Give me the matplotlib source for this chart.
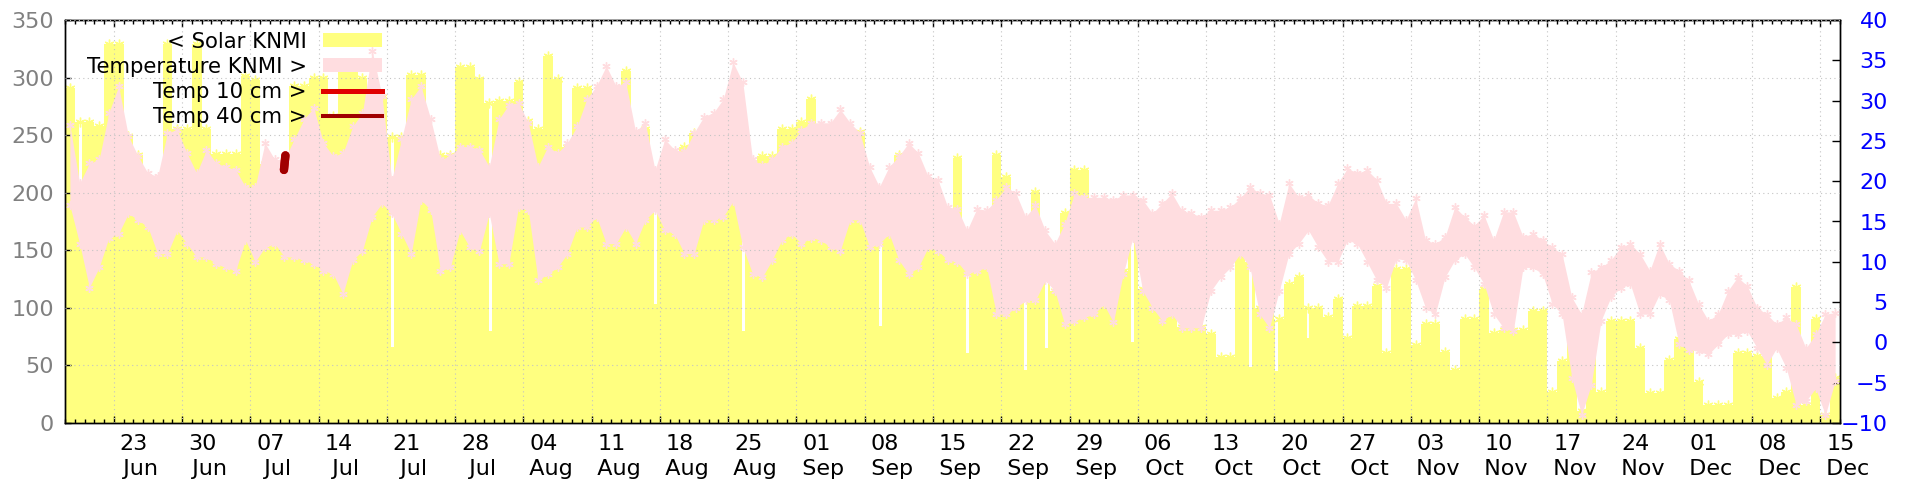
import numpy as np
import matplotlib
matplotlib.use('Agg')
import matplotlib.pyplot as plt
import matplotlib.dates as mdates
import matplotlib.transforms as mtransforms
from matplotlib.patches import Rectangle
from matplotlib.lines import Line2D
from datetime import datetime

# daily data, day 0 = 18 Jun 2025
start = datetime(2025, 6, 18)

solar = [291, 261, 261, 258, 329, 329, 249, 233, 205, 200,
         329, 255, 255, 329, 255, 234, 234, 234, 301, 298,
         225, 225, 200, 293, 293, 300, 300, 267, 306, 306,
         300, 290, 283, 248, 248, 302, 302, 240, 233, 233,
         309, 309, 299, 278, 280, 280, 296, 262, 255, 319,
         299, 240, 291, 291, 280, 280, 280, 306, 250, 255,
         200, 220, 220, 240, 252, 230, 230, 230, 230, 220,
         210, 232, 232, 255, 255, 261, 281, 240, 240, 240,
         240, 253, 200, 200, 210, 233, 220, 220, 200, 190,
         180, 230, 140, 140, 140, 233, 214, 120, 150, 201,
         130, 115, 182, 220, 220, 144, 140, 140, 132, 165,
         116, 138, 120, 112, 83, 83, 83, 77, 57, 57,
         153, 140, 100, 100, 90, 121, 127, 100, 100, 92,
         108, 74, 102, 102, 119, 61, 134, 134, 68, 86,
         86, 62, 46, 90, 90, 116, 78, 81, 81, 81,
         97, 97, 27, 54, 70, 10, 77, 27, 89, 89,
         89, 65, 26, 26, 55, 73, 65, 36, 16, 16,
         16, 61, 61, 58, 58, 22, 27, 118, 16, 90,
         7, 39]

# short drops inside a day (day position, value)
dip_day = [1.4, 33.4, 43.5, 60.4, 69.4, 83.5, 92.4, 98.3, 100.5, 109.3, 121.4, 124.1, 127.3]
dip_val = [198, 66, 80, 103, 80, 84, 61, 46, 65, 70, 49, 45, 74]

temp_max = [27, 19.75, 22.2, 22.7, 28.5, 31.8, 25.6, 23.1, 21, 20.6,
            26, 26.4, 23.5, 21, 23.9, 22.25, 21.8, 21.4, 19.3, 19.3,
            24.75, 22.7, 22.7, 25.2, 27.7, 29.1, 24.75, 23.1, 23.5, 26.8,
            28.5, 36.2, 30.6, 20.2, 25.2, 30.2, 31.8, 27.7, 22.7, 23.1,
            24.3, 24.3, 23.9, 21.8, 27.7, 29.5, 29.75, 27.25, 21.8, 24.3,
            23.5, 24.75, 26.8, 30.2, 31.8, 34.3, 31.8, 32.25, 26.2, 27.25,
            21.4, 25.2, 23.9, 23.7, 26, 28, 28.5, 30.2, 34.75, 32.25,
            22.7, 22, 22.7, 24.3, 24.75, 26.4, 27.25, 27.25, 27.25, 28.9,
            27.25, 26, 21.8, 19.3, 21.8, 23.1, 24.75, 23.5, 20.6, 20.2,
            16.8, 16.6, 13.9, 16.6, 16.4, 17.7, 19.3, 18.5, 15.6, 17,
            13.9, 12.25, 14.75, 18.5, 18, 18, 18, 17.7, 18.3, 18.3,
            17.7, 16, 17.25, 18.5, 16.4, 16, 15.6, 16.4, 16.4, 16.8,
            17.9, 19.3, 18.5, 18.3, 14.75, 19.75, 18, 18.3, 17.25, 17,
            19.75, 21.6, 21, 21.4, 20.2, 17.25, 17.25, 15.2, 17.9, 12.7,
            12.25, 13.1, 16.8, 15.6, 14.5, 15.8, 12.7, 16.2, 16.2, 13.1,
            13.5, 12.7, 11.8, 11, 5.6, 3.5, 8.7, 9.3, 10.2, 11.8,
            12.25, 11, 8.9, 12.25, 9.75, 8.9, 7.7, 4.75, 2.7, 3.5,
            6.4, 8.1, 7, 4.3, 3.5, 2.25, 3.1, 2.25, -0.7, 1,
            3.5, 3.7]

temp_min = [17, 12.25, 6.8, 9.3, 13, 13.5, 16, 15.2, 14.3, 11,
            11, 13.9, 12.25, 10.6, 10.6, 9.75, 9.3, 8.9, 12.7, 10,
            11.8, 12.25, 10.6, 10.6, 10.2, 9.75, 8.9, 8.5, 6, 10.2,
            11.4, 15.6, 17.25, 16, 13.5, 11, 17.7, 16.4, 8.9, 9.3,
            13.9, 11.8, 11.4, 16, 9.75, 9.75, 16.8, 16.4, 7.7, 8.5,
            9.3, 11, 14.3, 14.3, 15.6, 12.25, 12.25, 14.3, 12.25, 15.2,
            16.4, 13.9, 13.5, 11, 11, 15.2, 15.2, 15.6, 17.5, 11.8,
            8.5, 8.1, 10.2, 12.7, 13.5, 12.25, 13, 12.7, 11.8, 11.4,
            15.2, 15.2, 11.8, 12.25, 13.5, 10.2, 8.5, 9.3, 11.8, 11.4,
            10.2, 10, 8.5, 8.9, 9.3, 3.5, 3.5, 4.3, 5.2, 5.2,
            7.7, 6.4, 2.25, 2.7, 3.1, 3.5, 4.75, 2.5, 8.5, 13,
            6.4, 4.3, 2.7, 3.5, 1.8, 1.8, 1.8, 6.4, 8.1, 9.3,
            11, 9.3, 3.5, 1.8, 6.4, 11, 12.25, 13.9, 11.8, 10,
            10, 12.7, 12.25, 10, 7.7, 6.8, 10.4, 10.2, 7.7, 4.3,
            3.5, 8.1, 10.2, 11, 9.3, 7.25, 3.5, 1.8, 1.4, 9.3,
            9.3, 8.5, 4.75, 3.5, -4.4, -9, -5.25, 2.7, 5.6, 6.8,
            7.25, 3.5, 3.5, 6, 5.2, -0.25, -0.9, -1.1, -1.5, -0.25,
            1, 1, 1.4, -0.7, -2.75, -0.7, -3.2, -7.75, -7.3, -5.7,
            -9, -4.8]

# soil temperatures, only a short piece available
t10_day = [22.45, 22.6]
t10_val = [21.4, 23.2]
t40_day = [22.45, 22.6]
t40_val = [21.4, 23.2]

legend_labels = ['< Solar KNMI', 'Temperature KNMI >', 'Temp 10 cm >', 'Temp 40 cm >']

yellow = '#ffff80'
pink = '#ffdde0'
red = '#e00000'
darkred = '#a00000'
fs = 16
fs_key = 15.3

n = len(solar)
x0 = mdates.date2num(start)
days = np.arange(n)

# build the step outline of the solar series with the short drops
sx, sy = [], []
for d in range(n):
    sx.append(d)
    sy.append(solar[d])
    for t, v in zip(dip_day, dip_val):
        if d <= t < d + 1:
            sx += [t, t + 0.3]
            sy += [v, solar[d]]
sx.append(n)
sy.append(solar[-1])
sx = x0 + np.array(sx)

fig = plt.figure(figsize=(19.2, 4.8), dpi=100)
ax1 = fig.add_axes([65 / 1920, 57 / 480, 1775 / 1920, 403 / 480])
ax2 = ax1.twinx()

ax1.fill_between(sx, 0, sy, step='post', color=yellow, lw=0)
ax1.plot(x0 + days + 0.5, solar, ls='none', marker=(6, 2, 0), ms=7, mew=1, color=yellow)

tx = x0 + days + 0.5
ax2.fill_between(tx, temp_min, temp_max, color=pink, lw=0)
ax2.plot(tx, temp_max, ls='none', marker=(6, 2, 0), ms=6, mew=1, color=pink)
ax2.plot(tx, temp_min, ls='none', marker=(6, 2, 0), ms=6, mew=1, color=pink)
ax2.plot(x0 + np.array(t10_day), t10_val, color=red, lw=6, solid_capstyle='round')
ax2.plot(x0 + np.array(t40_day), t40_val, color=darkred, lw=6, solid_capstyle='round')

ax1.set_xlim(x0, x0 + n)
ax1.set_ylim(0, 350)
ax2.set_ylim(-10, 40)
ax1.set_yticks(np.arange(0, 351, 50))
ax2.set_yticks(np.arange(-10, 41, 5))

ax1.xaxis.set_major_locator(mdates.WeekdayLocator(byweekday=mdates.MO))
ax1.xaxis.set_minor_locator(mdates.DayLocator())
ax1.xaxis.set_major_formatter(mdates.DateFormatter('%d\n  %b'))

ax1.tick_params(axis='x', which='major', direction='in', length=5, width=1,
                top=True, bottom=True, labelsize=fs, pad=8)
ax1.tick_params(axis='x', which='minor', direction='in', length=2.6, width=1,
                top=True, bottom=True)
ax1.tick_params(axis='y', direction='in', length=4, width=1, left=True, right=False,
                labelcolor='#808080', labelsize=fs, pad=8)
ax2.tick_params(axis='y', direction='in', length=5.5, width=1, left=False, right=True,
                labelcolor='#0000ff', labelsize=fs, pad=34.6)
for lab in ax2.get_yticklabels():
    lab.set_horizontalalignment('right')

for sp in ax1.spines.values():
    sp.set_linewidth(1)
for sp in ax2.spines.values():
    sp.set_linewidth(1)

# grid on top of the filled areas
axg = fig.add_axes(ax1.get_position(), sharex=ax1, sharey=ax1)
axg.patch.set_visible(False)
axg.grid(True, which='major', color='#c4c4c4', lw=0.8, ls=(0, (1, 3)))
axg.tick_params(which='both', length=0, labelbottom=False, labelleft=False)
for sp in axg.spines.values():
    sp.set_visible(False)


# key, gnuplot style
def fx(px):
    return (px - 65) / 1775


def fy(py):
    return (423 - py) / 403


baselines = [48, 73, 98, 123]
for lab, b in zip(legend_labels, baselines):
    axg.text(fx(307), fy(b), lab, transform=axg.transAxes, ha='right', va='baseline',
             fontsize=fs_key, color='black')
axg.add_patch(Rectangle((fx(323), fy(47)), fx(382) - fx(323), fy(33) - fy(47),
                        transform=axg.transAxes, color=yellow, lw=0))
axg.add_patch(Rectangle((fx(323), fy(72)), fx(382) - fx(323), fy(58) - fy(72),
                        transform=axg.transAxes, color=pink, lw=0))
axg.add_line(Line2D([fx(323), fx(382)], [fy(90.5), fy(90.5)], transform=axg.transAxes,
                    color=red, lw=3.6))
axg.add_line(Line2D([fx(323), fx(382)], [fy(115.5), fy(115.5)], transform=axg.transAxes,
                    color=darkred, lw=2.9))

fig.canvas.draw()
offset = mtransforms.ScaledTranslation(0.2, 0, fig.dpi_scale_trans)
for lab in ax1.get_xticklabels():
    lab.set_transform(lab.get_transform() + offset)
    lab.set_linespacing(1.3)

fig.savefig('out.png', dpi=100)
